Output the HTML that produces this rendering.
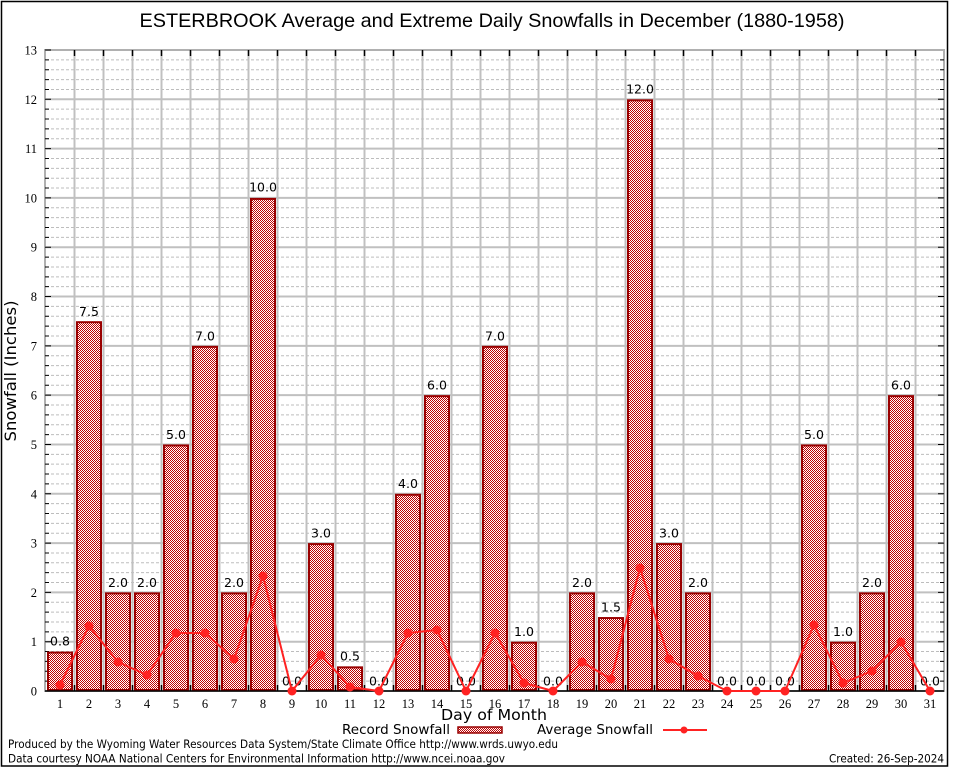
<!DOCTYPE html>
<html>
<head>
<meta charset="utf-8">
<style>
html,body{margin:0;padding:0;background:#fff;}
svg{display:block;}
.tk{font-family:"Liberation Serif","DejaVu Serif",serif;font-size:12.5px;fill:#000;}
.vl{font-family:"DejaVu Sans","Liberation Sans",sans-serif;font-size:12.5px;fill:#000;text-anchor:middle;}
.sn{font-family:"DejaVu Sans","Liberation Sans",sans-serif;fill:#000;}
</style>
</head>
<body>
<svg width="954" height="768" viewBox="0 0 954 768" xmlns="http://www.w3.org/2000/svg">
<defs>
<pattern id="chk" width="2" height="2" patternUnits="userSpaceOnUse">
<rect width="2" height="2" fill="#ffffff"/>
<rect x="0" y="0" width="1" height="1" fill="#c00000"/>
<rect x="1" y="1" width="1" height="1" fill="#c00000"/>
</pattern>
</defs>
<rect x="0" y="0" width="954" height="768" fill="#fff"/>
<rect x="1.5" y="1.5" width="946" height="764.5" fill="none" stroke="#000" stroke-width="1.5"/>

<text x="492" y="27" font-family="Liberation Sans, Arial, sans-serif" font-size="19.5" text-anchor="middle" textLength="705" lengthAdjust="spacingAndGlyphs">ESTERBROOK Average and Extreme Daily Snowfalls in December (1880-1958)</text>

<!-- minor grid -->
<path fill="none" stroke="#bdbdbd" stroke-width="1" stroke-dasharray="3,2" d="M46 681.14H944M46 671.28H944M46 661.42H944M46 651.55H944M46 631.83H944M46 621.97H944M46 612.11H944M46 602.25H944M46 582.52H944M46 572.66H944M46 562.8H944M46 552.94H944M46 533.22H944M46 523.35H944M46 513.49H944M46 503.63H944M46 483.91H944M46 474.05H944M46 464.18H944M46 454.32H944M46 434.6H944M46 424.74H944M46 414.88H944M46 405.02H944M46 385.29H944M46 375.43H944M46 365.57H944M46 355.71H944M46 335.98H944M46 326.12H944M46 316.26H944M46 306.4H944M46 286.68H944M46 276.82H944M46 266.95H944M46 257.09H944M46 237.37H944M46 227.51H944M46 217.65H944M46 207.78H944M46 188.06H944M46 178.2H944M46 168.34H944M46 158.48H944M46 138.75H944M46 128.89H944M46 119.03H944M46 109.17H944M46 89.45H944M46 79.58H944M46 69.72H944M46 59.86H944"/>
<!-- major horizontal grid -->
<path fill="none" stroke="#c0c0c0" stroke-width="2" d="M45 641.69H944M45 592.38H944M45 543.08H944M45 493.77H944M45 444.46H944M45 395.15H944M45 345.85H944M45 296.54H944M45 247.23H944M45 197.92H944M45 148.62H944M45 99.31H944"/>
<!-- vertical grid -->
<path fill="none" stroke="#c0c0c0" stroke-width="2" d="M74.5 50V691M103.5 50V691M132.5 50V691M161.5 50V691M190.5 50V691M219.5 50V691M248.5 50V691M277.5 50V691M306.5 50V691M335.5 50V691M364.5 50V691M393.5 50V691M422.5 50V691M451.5 50V691M480.5 50V691M509.5 50V691M538.5 50V691M567.5 50V691M596.5 50V691M625.5 50V691M654.5 50V691M683.5 50V691M712.5 50V691M741.5 50V691M770.5 50V691M799.5 50V691M828.5 50V691M857.5 50V691M886.5 50V691M915.5 50V691"/>
<!-- frame -->
<rect x="45" y="50" width="899" height="641" fill="none" stroke="#b0b0b0" stroke-width="2"/>
<!-- left/right ticks -->
<path fill="none" stroke="#000" stroke-width="1" d="M45 681.14h4M45 671.28h4M45 661.42h4M45 651.55h4M45 641.69h6M45 631.83h4M45 621.97h4M45 612.11h4M45 602.25h4M45 592.38h6M45 582.52h4M45 572.66h4M45 562.8h4M45 552.94h4M45 543.08h6M45 533.22h4M45 523.35h4M45 513.49h4M45 503.63h4M45 493.77h6M45 483.91h4M45 474.05h4M45 464.18h4M45 454.32h4M45 444.46h6M45 434.6h4M45 424.74h4M45 414.88h4M45 405.02h4M45 395.15h6M45 385.29h4M45 375.43h4M45 365.57h4M45 355.71h4M45 345.85h6M45 335.98h4M45 326.12h4M45 316.26h4M45 306.4h4M45 296.54h6M45 286.68h4M45 276.82h4M45 266.95h4M45 257.09h4M45 247.23h6M45 237.37h4M45 227.51h4M45 217.65h4M45 207.78h4M45 197.92h6M45 188.06h4M45 178.2h4M45 168.34h4M45 158.48h4M45 148.62h6M45 138.75h4M45 128.89h4M45 119.03h4M45 109.17h4M45 99.31h6M45 89.45h4M45 79.58h4M45 69.72h4M45 59.86h4M45 50h6
M944 681.14h-4M944 671.28h-4M944 661.42h-4M944 651.55h-4M944 641.69h-6M944 631.83h-4M944 621.97h-4M944 612.11h-4M944 602.25h-4M944 592.38h-6M944 582.52h-4M944 572.66h-4M944 562.8h-4M944 552.94h-4M944 543.08h-6M944 533.22h-4M944 523.35h-4M944 513.49h-4M944 503.63h-4M944 493.77h-6M944 483.91h-4M944 474.05h-4M944 464.18h-4M944 454.32h-4M944 444.46h-6M944 434.6h-4M944 424.74h-4M944 414.88h-4M944 405.02h-4M944 395.15h-6M944 385.29h-4M944 375.43h-4M944 365.57h-4M944 355.71h-4M944 345.85h-6M944 335.98h-4M944 326.12h-4M944 316.26h-4M944 306.4h-4M944 296.54h-6M944 286.68h-4M944 276.82h-4M944 266.95h-4M944 257.09h-4M944 247.23h-6M944 237.37h-4M944 227.51h-4M944 217.65h-4M944 207.78h-4M944 197.92h-6M944 188.06h-4M944 178.2h-4M944 168.34h-4M944 158.48h-4M944 148.62h-6M944 138.75h-4M944 128.89h-4M944 119.03h-4M944 109.17h-4M944 99.31h-6M944 89.45h-4M944 79.58h-4M944 69.72h-4M944 59.86h-4"/>
<!-- top ticks -->
<path fill="none" stroke="#000" stroke-width="1.5" d="M74.5 50v6M103.5 50v6M132.5 50v6M161.5 50v6M190.5 50v6M219.5 50v6M248.5 50v6M277.5 50v6M306.5 50v6M335.5 50v6M364.5 50v6M393.5 50v6M422.5 50v6M451.5 50v6M480.5 50v6M509.5 50v6M538.5 50v6M567.5 50v6M596.5 50v6M625.5 50v6M654.5 50v6M683.5 50v6M712.5 50v6M741.5 50v6M770.5 50v6M799.5 50v6M828.5 50v6M857.5 50v6M886.5 50v6M915.5 50v6"/>

<!-- bars -->
<g fill="url(#chk)" stroke="#990000" stroke-width="2">
<rect x="48" y="652.55" width="24" height="37.45"/>
<rect x="77" y="322.19" width="24" height="367.81"/>
<rect x="106" y="593.38" width="24" height="96.62"/>
<rect x="135" y="593.38" width="24" height="96.62"/>
<rect x="164" y="445.46" width="24" height="244.54"/>
<rect x="193" y="346.85" width="24" height="343.15"/>
<rect x="222" y="593.38" width="24" height="96.62"/>
<rect x="251" y="198.92" width="24" height="491.08"/>
<rect x="309" y="544.08" width="24" height="145.92"/>
<rect x="338" y="667.35" width="24" height="22.65"/>
<rect x="396" y="494.77" width="24" height="195.23"/>
<rect x="425" y="396.15" width="24" height="293.85"/>
<rect x="483" y="346.85" width="24" height="343.15"/>
<rect x="512" y="642.69" width="24" height="47.31"/>
<rect x="570" y="593.38" width="24" height="96.62"/>
<rect x="599" y="618.04" width="24" height="71.96"/>
<rect x="628" y="100.31" width="24" height="589.69"/>
<rect x="657" y="544.08" width="24" height="145.92"/>
<rect x="686" y="593.38" width="24" height="96.62"/>
<rect x="802" y="445.46" width="24" height="244.54"/>
<rect x="831" y="642.69" width="24" height="47.31"/>
<rect x="860" y="593.38" width="24" height="96.62"/>
<rect x="889" y="396.15" width="24" height="293.85"/>
</g>

<!-- bottom axis & ticks -->
<path fill="none" stroke="#000" stroke-width="1.5" d="M45 691H944M74.5 691v-6M103.5 691v-6M132.5 691v-6M161.5 691v-6M190.5 691v-6M219.5 691v-6M248.5 691v-6M277.5 691v-6M306.5 691v-6M335.5 691v-6M364.5 691v-6M393.5 691v-6M422.5 691v-6M451.5 691v-6M480.5 691v-6M509.5 691v-6M538.5 691v-6M567.5 691v-6M596.5 691v-6M625.5 691v-6M654.5 691v-6M683.5 691v-6M712.5 691v-6M741.5 691v-6M770.5 691v-6M799.5 691v-6M828.5 691v-6M857.5 691v-6M886.5 691v-6M915.5 691v-6"/>

<!-- value labels -->
<g class="vl">
<text x="60" y="645.5">0.8</text>
<text x="89" y="316">7.5</text>
<text x="118" y="587">2.0</text>
<text x="147" y="587">2.0</text>
<text x="176" y="439">5.0</text>
<text x="205" y="340.5">7.0</text>
<text x="234" y="587">2.0</text>
<text x="263" y="191.5">10.0</text>
<text x="292" y="685.5">0.0</text>
<text x="321" y="537.5">3.0</text>
<text x="350" y="660.5">0.5</text>
<text x="379" y="685.5">0.0</text>
<text x="408" y="488">4.0</text>
<text x="437" y="389.5">6.0</text>
<text x="466" y="685.5">0.0</text>
<text x="495" y="340.5">7.0</text>
<text x="524" y="636">1.0</text>
<text x="553" y="685.5">0.0</text>
<text x="582" y="587">2.0</text>
<text x="611" y="611.5">1.5</text>
<text x="640" y="93.5">12.0</text>
<text x="669" y="537.5">3.0</text>
<text x="698" y="587">2.0</text>
<text x="727" y="685.5">0.0</text>
<text x="756" y="685.5">0.0</text>
<text x="785" y="685.5">0.0</text>
<text x="814" y="439">5.0</text>
<text x="843" y="636">1.0</text>
<text x="872" y="587">2.0</text>
<text x="901" y="389.5">6.0</text>
<text x="930" y="685.5">0.0</text>
</g>

<!-- average line -->
<polyline fill="none" stroke="#ff2222" stroke-width="2" stroke-linejoin="round" points="60,685 89,626 118,662 147,675 176,633 205,633 234,659 263,576 292,691 321,655 350,687 379,691 408,633 437,630 466,691 495,633 524,683 553,691 582,662 611,679 640,568 669,659 698,676 727,691 756,691 785,691 814,625 843,683 872,671 901,642 930,691"/>
<g fill="#ff2222">
<circle cx="60" cy="685" r="4.5"/><circle cx="89" cy="626" r="4.5"/><circle cx="118" cy="662" r="4.5"/><circle cx="147" cy="675" r="4.5"/><circle cx="176" cy="633" r="4.5"/><circle cx="205" cy="633" r="4.5"/><circle cx="234" cy="659" r="4.5"/><circle cx="263" cy="576" r="4.5"/><circle cx="292" cy="691" r="4.5"/><circle cx="321" cy="655" r="4.5"/><circle cx="350" cy="687" r="4.5"/><circle cx="379" cy="691" r="4.5"/><circle cx="408" cy="633" r="4.5"/><circle cx="437" cy="630" r="4.5"/><circle cx="466" cy="691" r="4.5"/><circle cx="495" cy="633" r="4.5"/><circle cx="524" cy="683" r="4.5"/><circle cx="553" cy="691" r="4.5"/><circle cx="582" cy="662" r="4.5"/><circle cx="611" cy="679" r="4.5"/><circle cx="640" cy="568" r="4.5"/><circle cx="669" cy="659" r="4.5"/><circle cx="698" cy="676" r="4.5"/><circle cx="727" cy="691" r="4.5"/><circle cx="756" cy="691" r="4.5"/><circle cx="785" cy="691" r="4.5"/><circle cx="814" cy="625" r="4.5"/><circle cx="843" cy="683" r="4.5"/><circle cx="872" cy="671" r="4.5"/><circle cx="901" cy="642" r="4.5"/><circle cx="930" cy="691" r="4.5"/>
</g>

<!-- y tick labels -->
<g class="tk" text-anchor="end">
<text x="37" y="695.5">0</text>
<text x="37" y="646.2">1</text>
<text x="37" y="596.9">2</text>
<text x="37" y="547.6">3</text>
<text x="37" y="498.3">4</text>
<text x="37" y="449">5</text>
<text x="37" y="399.7">6</text>
<text x="37" y="350.4">7</text>
<text x="37" y="301">8</text>
<text x="37" y="251.7">9</text>
<text x="37" y="202.4">10</text>
<text x="37" y="153.1">11</text>
<text x="37" y="103.8">12</text>
<text x="37" y="54.5">13</text>
</g>
<!-- x tick labels -->
<g class="tk" text-anchor="middle">
<text x="60" y="708">1</text><text x="89" y="708">2</text><text x="118" y="708">3</text><text x="147" y="708">4</text><text x="176" y="708">5</text><text x="205" y="708">6</text><text x="234" y="708">7</text><text x="263" y="708">8</text><text x="292" y="708">9</text><text x="321" y="708">10</text><text x="350" y="708">11</text><text x="379" y="708">12</text><text x="408" y="708">13</text><text x="437" y="708">14</text><text x="466" y="708">15</text><text x="495" y="708">16</text><text x="524" y="708">17</text><text x="553" y="708">18</text><text x="582" y="708">19</text><text x="611" y="708">20</text><text x="640" y="708">21</text><text x="669" y="708">22</text><text x="698" y="708">23</text><text x="727" y="708">24</text><text x="756" y="708">25</text><text x="785" y="708">26</text><text x="814" y="708">27</text><text x="843" y="708">28</text><text x="872" y="708">29</text><text x="901" y="708">30</text><text x="930" y="708">31</text>
</g>

<!-- axis titles -->
<text class="sn" transform="translate(16,371) rotate(-90)" font-size="16" text-anchor="middle" textLength="141" lengthAdjust="spacingAndGlyphs">Snowfall (Inches)</text>
<text class="sn" x="494" y="720" font-size="15" text-anchor="middle" textLength="106" lengthAdjust="spacingAndGlyphs">Day of Month</text>

<!-- legend -->
<text class="sn" x="342" y="734" font-size="13.5" textLength="108" lengthAdjust="spacingAndGlyphs">Record Snowfall</text>
<rect x="458" y="727" width="44" height="6" fill="url(#chk)" stroke="#990000" stroke-width="1.5"/>
<text class="sn" x="537" y="734" font-size="13.5" textLength="116" lengthAdjust="spacingAndGlyphs">Average Snowfall</text>
<line x1="663" y1="730" x2="707" y2="730" stroke="#ff2222" stroke-width="2"/>
<circle cx="684" cy="730" r="3.5" fill="#ff2222"/>

<!-- footer -->
<text class="sn" x="8" y="748" font-size="11.5" textLength="550" lengthAdjust="spacingAndGlyphs">Produced by the Wyoming Water Resources Data System/State Climate Office http://www.wrds.uwyo.edu</text>
<text class="sn" x="8" y="762.5" font-size="11.5" textLength="497" lengthAdjust="spacingAndGlyphs">Data courtesy NOAA National Centers for Environmental Information http://www.ncei.noaa.gov</text>
<text class="sn" x="944" y="762.5" font-size="11.5" text-anchor="end" textLength="115" lengthAdjust="spacingAndGlyphs">Created: 26-Sep-2024</text>
</svg>
</body>
</html>
